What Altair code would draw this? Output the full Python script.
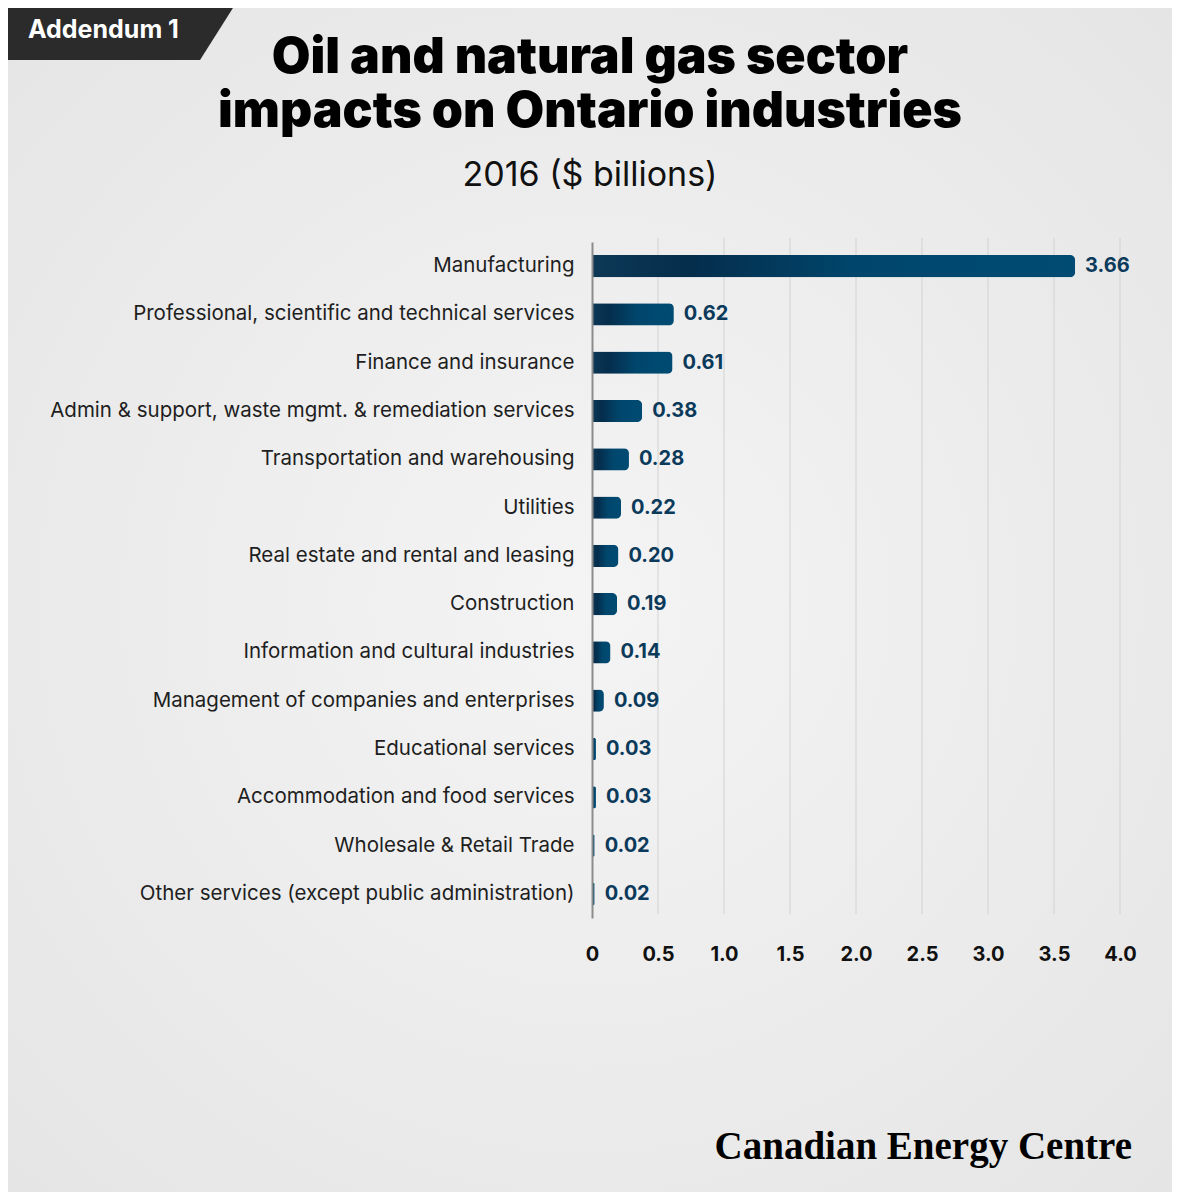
import pandas as pd
import altair as alt

# industries, top to bottom, and the impact in $ billions (2016)
industries = [
    "Manufacturing",
    "Professional, scientific and technical services",
    "Finance and insurance",
    "Admin & support, waste mgmt. & remediation services",
    "Transportation and warehousing",
    "Utilities",
    "Real estate and rental and leasing",
    "Construction",
    "Information and cultural industries",
    "Management of companies and enterprises",
    "Educational services",
    "Accommodation and food services",
    "Wholesale & Retail Trade",
    "Other services (except public administration)",
]
impacts = [3.66, 0.62, 0.61, 0.38, 0.28, 0.22, 0.20, 0.19, 0.14, 0.09, 0.03, 0.03, 0.02, 0.02]
x_ticks = [0, 0.5, 1.0, 1.5, 2.0, 2.5, 3.0, 3.5, 4.0]

title_lines = ["Oil and natural gas sector", "impacts on Ontario industries"]
subtitle = "2016 ($ billions)"
badge = "Addendum 1"
footer = "Canadian Energy Centre"

df = pd.DataFrame({"industry": industries, "value": impacts})
grid_df = pd.DataFrame({"tick": x_ticks[1:]})

SANS = "Inter"
NAVY = "#0b3a5b"
one_row = alt.Data(values=[{}])

# light grey backdrop with a soft centre glow
backdrop = alt.Chart(one_row).mark_rect(
    color=alt.RadialGradient(
        gradient="radial",
        stops=[alt.GradientStop(color="#f4f4f4", offset=0),
               alt.GradientStop(color="#e4e4e4", offset=1)],
        x1=0.5, y1=0.5, x2=0.5, y2=0.5, r1=0, r2=0.75,
    )
).encode(x=alt.value(-584), x2=alt.value(580), y=alt.value(-234), y2=alt.value(950))

x_scale = alt.Scale(domain=[0, 4], nice=False)

# vertical gridlines, kept behind the bars
grid = alt.Chart(grid_df).mark_rule(color="#d2d2d2", strokeWidth=1).encode(
    x=alt.X("tick:Q", scale=x_scale), y=alt.value(-4), y2=alt.value(672)
)

x_enc = alt.X(
    "value:Q",
    scale=x_scale,
    axis=alt.Axis(
        values=x_ticks, title=None, domain=False, ticks=False, grid=False, zindex=1,
        labelExpr="datum.value == 0 ? '0' : format(datum.value, '.1f')",
        labelFont=SANS, labelFontSize=20, labelFontWeight="bold",
        labelColor="#111111", labelPadding=26, labelFlush=False, labelOverlap=False,
    ),
)
y_enc = alt.Y(
    "industry:N", sort=industries,
    scale=alt.Scale(paddingInner=0.54, paddingOuter=0.27),
    axis=alt.Axis(
        title=None, ticks=False, domain=True, domainColor="#8c8c8c", domainWidth=2,
        labelFont=SANS, labelFontSize=20.5, labelColor="#1e1e1e", labelPadding=18,
        labelLimit=700, zindex=1,
    ),
)

bars = alt.Chart(df).mark_bar(
    cornerRadiusEnd=5,
    color=alt.LinearGradient(
        gradient="linear",
        stops=[alt.GradientStop(color="#0d3856", offset=0),
               alt.GradientStop(color="#052d4c", offset=0.2),
               alt.GradientStop(color="#00466c", offset=0.55),
               alt.GradientStop(color="#004b73", offset=1)],
        x1=0, x2=1, y1=0, y2=0,
    ),
).encode(x=x_enc, y=y_enc)

labels = alt.Chart(df).mark_text(
    align="left", baseline="middle", dx=10,
    font=SANS, fontSize=20, fontWeight="bold", color=NAVY,
).encode(x="value:Q", y=alt.Y("industry:N", sort=industries), text=alt.Text("value:Q", format=".2f"))

title = alt.Chart(one_row).mark_text(
    align="center", baseline="middle", font=SANS, fontSize=50, fontWeight=900,
    color="#000000", lineHeight=54,
).encode(x=alt.value(-2), y=alt.value(-184), text=alt.value(title_lines))

sub = alt.Chart(one_row).mark_text(
    align="center", baseline="middle", font=SANS, fontSize=34, color="#111111",
).encode(x=alt.value(-2), y=alt.value(-66), text=alt.value(subtitle))

badge_shape = alt.Chart(one_row).mark_point(
    shape="M -1 -0.252 L 1 -0.252 L 0.681 0.252 L -1 0.252 Z",
    filled=True, opacity=1, strokeWidth=0, color="#2b2b2b", size=238 * 238,
).encode(x=alt.value(-473), y=alt.value(-212))

badge_text = alt.Chart(one_row).mark_text(
    align="left", baseline="middle", font=SANS, fontSize=25, fontWeight="bold", color="#ffffff",
).encode(x=alt.value(-564), y=alt.value(-212), text=alt.value(badge))

brand = alt.Chart(one_row).mark_text(
    align="right", baseline="middle", font="Liberation Serif", fontSize=39,
    fontWeight="bold", color="#000000",
).encode(x=alt.value(540), y=alt.value(905), text=alt.value(footer))

chart = alt.layer(
    backdrop, grid, bars, labels, title, sub, badge_shape, badge_text, brand
).properties(
    width=528,
    height=676,
    autosize=alt.AutoSizeParams(type="none"),
    padding={"left": 584, "top": 234, "right": 52, "bottom": 274},
    background="#e9e9e9",
).configure_view(stroke=None)

chart.save("out.html", embed_options={"renderer": "svg", "actions": False})
